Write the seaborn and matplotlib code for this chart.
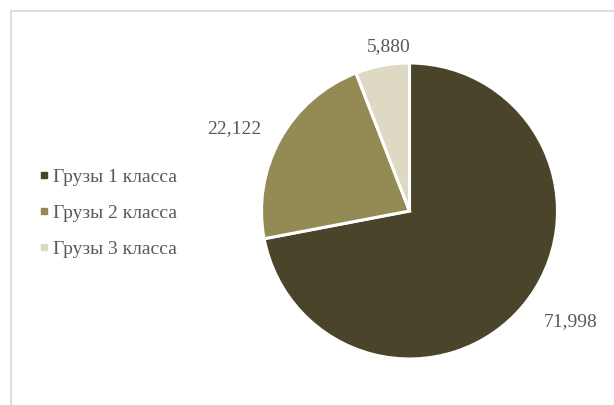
import numpy as np
import matplotlib
matplotlib.use("Agg")
import matplotlib.pyplot as plt
from matplotlib.lines import Line2D
from matplotlib.patches import Rectangle
import seaborn as sns

categories = ["Грузы 1 класса", "Грузы 2 класса", "Грузы 3 класса"]
values = [71998, 22122, 5880]
value_labels = ["71,998", "22,122", "5,880"]
colors = ["#4a452a", "#948a54", "#ddd9c3"]

sns.set_theme(style="white")
plt.rcParams['font.family'] = ['Liberation Serif', 'DejaVu Serif']
text_color = "#595959"

W, H = 614, 405
fig = plt.figure(figsize=(W / 100, H / 100), dpi=100)
fig.patch.set_facecolor("white")

# chart area border (top/left visible, rest cropped)
fig.add_artist(Rectangle((11 / W, -0.1), 1.2, (H - 11) / H + 0.1,
                         transform=fig.transFigure, fill=False,
                         edgecolor="#d9d9d9", linewidth=1.3))

cx, cy, r = 409.5, 211, 148
ax = fig.add_axes([(cx - r) / W, (H - cy - r) / H, 2 * r / W, 2 * r / H])
palette = sns.color_palette(colors)
wedges, _ = ax.pie(values, colors=palette, startangle=90, counterclock=False,
                   wedgeprops=dict(edgecolor="white", linewidth=2.2))
ax.set_xlim(-1, 1)
ax.set_ylim(-1, 1)
ax.set_aspect("equal")

dist = [1.32, 1.31, 1.12]
ang_off = [5.0, 4.0, -3.5]
for w, lab, d, off in zip(wedges, value_labels, dist, ang_off):
    mid = np.deg2rad((w.theta1 + w.theta2) / 2 + off)
    ax.text(d * np.cos(mid), d * np.sin(mid), lab, ha="center", va="center",
            fontsize=14, color=text_color, clip_on=False)

handles = [Line2D([], [], marker="s", linestyle="none", markersize=5,
                  markerfacecolor=c, markeredgecolor=c) for c in palette]
fig.legend(handles, categories, loc="center left",
           bbox_to_anchor=(28 / W, 1 - 213 / H), frameon=False,
           fontsize=14, labelcolor=text_color, handlelength=0.6,
           handletextpad=0.2, labelspacing=0.95, borderpad=0)

fig.savefig("out.png", dpi=100)
